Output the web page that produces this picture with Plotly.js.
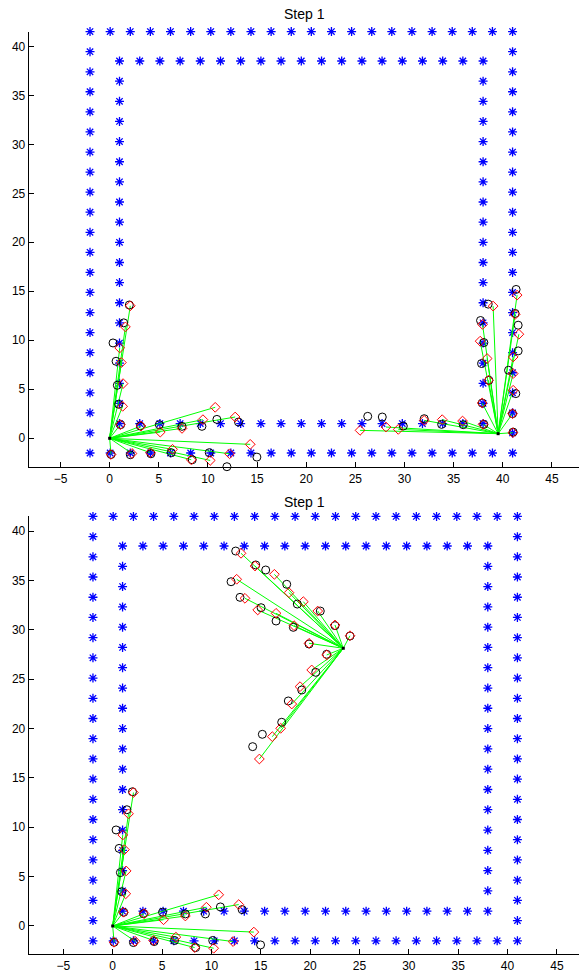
<!DOCTYPE html>
<html><head><meta charset="utf-8">
<script src="https://cdn.plot.ly/plotly-3.0.1.min.js"></script>
<style>html,body{margin:0;padding:0;background:#fff}#chart{width:579px;height:974px}</style>
</head><body><div id="chart"></div>
<script>
// Wall landmarks (blue asterisks): positions along the outer and inner walls
const outerXs = [-2, 0.05, 2.1, 4.14, 6.19, 8.24, 10.29, 12.33, 14.38, 16.43, 18.48, 20.52, 22.57, 24.62, 26.67, 28.71, 30.76, 32.81, 34.86, 36.9, 38.95, 41];
const outerYs = [-1.5, 0.55, 2.6, 4.64, 6.69, 8.74, 10.79, 12.83, 14.88, 16.93, 18.98, 21.02, 23.07, 25.12, 27.17, 29.21, 31.26, 33.31, 35.36, 37.4, 39.45, 41.5];
const innerXs = [1, 3.06, 5.11, 7.17, 9.22, 11.28, 13.33, 15.39, 17.44, 19.5, 21.56, 23.61, 25.67, 27.72, 29.78, 31.83, 33.89, 35.94, 38];
const innerYs = [1.5, 3.56, 5.61, 7.67, 9.72, 11.78, 13.83, 15.89, 17.94, 20, 22.06, 24.11, 26.17, 28.22, 30.28, 32.33, 34.39, 36.44, 38.5];

// Robot 1 (both panels)
const robot1 = [0, 0];
const leftDiamX = [2.10, 1.60, 1.02, 1.19, 1.36, 1.32, 1.09, 3.19, 5.15, 7.36, 9.49, 10.74, 12.77, 14.3, 12.2, 10.23, 8.3, 6.4, 4.14, 2.27, 0.14];
const leftDiamY = [13.52, 11.37, 9.22, 7.73, 5.58, 3.26, 1.39, 1.25, 0.63, 1.01, 1.9, 3.16, 2.17, -0.62, -1.58, -2.26, -2.19, -1.13, -1.47, -1.55, -1.65];
const leftCircX = [2.0, 1.43, 0.34, 0.65, 0.78, 0.92, 1.12, 3.12, 5.05, 7.36, 9.39, 10.91, 13.11, 14.98, 11.93, 10.13, 8.4, 6.27, 4.2, 2.1, 0.14];
const leftCircY = [13.6, 11.78, 9.73, 7.86, 5.41, 3.47, 1.39, 1.25, 1.39, 1.22, 1.22, 1.93, 1.66, -1.92, -2.9, -1.47, -2.19, -1.47, -1.58, -1.68, -1.65];

// Robot 2, top panel
const robot2Top = [39.53, 0.47];
const rightDiamX = [41.46, 39.02, 41.26, 37.94, 41.64, 37.7, 38.41, 41.06, 41.06, 38.55, 41.06, 37.9, 41.0, 41.03, 38.0, 35.91, 33.84, 32.01, 29.37, 28.12, 25.48];
const rightDiamY = [14.61, 13.49, 12.64, 11.62, 10.62, 9.91, 8.14, 8.3, 6.6, 5.92, 4.9, 3.6, 2.51, 0.57, 1.42, 1.76, 1.9, 1.83, 0.91, 1.15, 0.81];
const rightCircX = [41.36, 38.52, 41.26, 37.74, 41.57, 38.08, 41.57, 37.84, 40.59, 38.59, 41.33, 37.91, 41.0, 41.06, 38.08, 35.98, 33.78, 32.01, 29.88, 27.74, 26.26];
const rightCircY = [15.19, 13.69, 12.74, 12.02, 11.54, 9.77, 8.92, 7.63, 6.94, 5.92, 4.56, 3.6, 2.51, 0.63, 1.42, 1.39, 1.42, 2.0, 1.25, 2.17, 2.24];

// Robot 2, bottom panel
const robot2Bot = [23.36, 28.14];
const vDiamX = [13.0, 14.42, 16.38, 12.56, 17.86, 19.31, 13.4, 14.69, 20.77, 16.55, 18.37, 22.52, 24.04, 19.89, 21.68, 20.16, 18.98, 18.14, 17.02, 16.17, 14.86];
const vDiamY = [37.76, 36.47, 35.63, 35.13, 33.77, 32.86, 33.2, 32.02, 31.91, 31.68, 30.43, 30.5, 29.41, 28.64, 27.46, 25.94, 24.25, 22.49, 20.03, 19.18, 16.92];
const vCircX = [12.46, 14.49, 15.5, 11.99, 17.63, 12.9, 18.7, 15.03, 21.03, 16.55, 18.3, 22.52, 24.04, 19.89, 21.68, 20.57, 19.15, 17.79, 17.12, 15.16, 14.18];
const vCircY = [37.99, 36.58, 36.07, 34.88, 34.62, 33.3, 32.62, 32.25, 31.91, 30.9, 30.26, 30.43, 29.38, 28.57, 27.53, 25.7, 23.91, 22.8, 20.64, 19.42, 18.17];

const xTicks = [-5, 0, 5, 10, 15, 20, 25, 30, 35, 40, 45];
const yTicks = [0, 5, 10, 15, 20, 25, 30, 35, 40];
const titleText = 'Step 1';

function perimeter(xs, ys) {
  const px = [], py = [];
  const y0 = ys[0], y1 = ys[ys.length - 1], x0 = xs[0], x1 = xs[xs.length - 1];
  xs.forEach(x => { px.push(x); py.push(y1); px.push(x); py.push(y0); });
  ys.slice(1, -1).forEach(y => { px.push(x0); py.push(y); px.push(x1); py.push(y); });
  return [px, py];
}
function rays(r, xs, ys) {
  const lx = [], ly = [];
  xs.forEach((x, i) => { lx.push(r[0], x, null); ly.push(r[1], ys[i], null); });
  return [lx, ly];
}

const outerP = perimeter(outerXs, outerYs);
const innerP = perimeter(innerXs, innerYs);
const wallX = outerP[0].concat(innerP[0]);
const wallY = outerP[1].concat(innerP[1]);

function panelTraces(xa, ya, groups) {
  const tr = [];
  tr.push({x: wallX, y: wallY, xaxis: xa, yaxis: ya, mode: 'markers', type: 'scatter', cliponaxis: false,
    marker: {symbol: 'asterisk-open', size: 7.5, color: '#0000ff', line: {color: '#0000ff', width: 1.3}}});
  groups.forEach(g => {
    const r = rays(g.robot, g.dx, g.dy);
    tr.push({x: r[0], y: r[1], xaxis: xa, yaxis: ya, mode: 'lines', type: 'scatter', cliponaxis: false,
      line: {color: '#00ff00', width: 1}});
  });
  groups.forEach(g => {
    tr.push({x: g.cx, y: g.cy, xaxis: xa, yaxis: ya, mode: 'markers', type: 'scatter', cliponaxis: false,
      marker: {symbol: 'circle-open', size: 8, color: '#000000', line: {color: '#000000', width: 1}}});
    tr.push({x: g.dx, y: g.dy, xaxis: xa, yaxis: ya, mode: 'markers', type: 'scatter', cliponaxis: false,
      marker: {symbol: 'diamond-open', size: 7.5, color: '#ff0000', line: {color: '#ff0000', width: 1}}});
    tr.push({x: [g.robot[0]], y: [g.robot[1]], xaxis: xa, yaxis: ya, mode: 'markers', type: 'scatter', cliponaxis: false,
      marker: {symbol: 'square', size: 3, color: '#000000'}});
  });
  return tr;
}

const data = []
  .concat(panelTraces('x', 'y', [
    {robot: robot1, dx: leftDiamX, dy: leftDiamY, cx: leftCircX, cy: leftCircY},
    {robot: robot2Top, dx: rightDiamX, dy: rightDiamY, cx: rightCircX, cy: rightCircY}]))
  .concat(panelTraces('x2', 'y2', [
    {robot: robot1, dx: leftDiamX, dy: leftDiamY, cx: leftCircX, cy: leftCircY},
    {robot: robot2Bot, dx: vDiamX, dy: vDiamY, cx: vCircX, cy: vCircY}]));

const tickFont = {family: 'Liberation Sans, Arial, sans-serif', size: 12, color: '#000'};
function axisBase(extra) {
  return Object.assign({
    showgrid: false, zeroline: false, showline: true, linecolor: '#000', linewidth: 1,
    ticks: 'inside', ticklen: 5, tickwidth: 1, tickcolor: '#000', tickfont: tickFont,
    tickmode: 'array', fixedrange: true
  }, extra);
}
const xDom = [28.7 / 579, 1];
const xLabels = xTicks.map(v => v < 0 ? '\u2212' + Math.abs(v) : String(v));
const layout = {
  width: 579, height: 974, showlegend: false,
  margin: {l: 0, r: 0, t: 0, b: 0, pad: 0},
  paper_bgcolor: '#fff', plot_bgcolor: '#fff',
  xaxis: axisBase({domain: xDom, range: [-8.24, 47.76], anchor: 'y', tickvals: xTicks, ticktext: xLabels}),
  yaxis: axisBase({domain: [1 - 467.1 / 974, 1 - 31.6 / 974], range: [-2.94, 41.5], anchor: 'x', tickvals: yTicks}),
  xaxis2: axisBase({domain: xDom, range: [-8.51, 47.24], anchor: 'y2', tickvals: xTicks, ticktext: xLabels}),
  yaxis2: axisBase({domain: [1 - 954.3 / 974, 1 - 516.4 / 974], range: [-2.87, 41.5], anchor: 'x2', tickvals: yTicks}),
  annotations: [
    {text: titleText, xref: 'paper', yref: 'paper', x: 304.4 / 579, y: 1 - 14 / 974, xanchor: 'center', yanchor: 'middle', showarrow: false,
     font: {family: 'Liberation Sans, Arial, sans-serif', size: 14, color: '#000'}},
    {text: titleText, xref: 'paper', yref: 'paper', x: 304.4 / 579, y: 1 - 502 / 974, xanchor: 'center', yanchor: 'middle', showarrow: false,
     font: {family: 'Liberation Sans, Arial, sans-serif', size: 14, color: '#000'}}
  ]
};
Plotly.newPlot('chart', data, layout, {staticPlot: true, displayModeBar: false});
</script>
</body></html>
